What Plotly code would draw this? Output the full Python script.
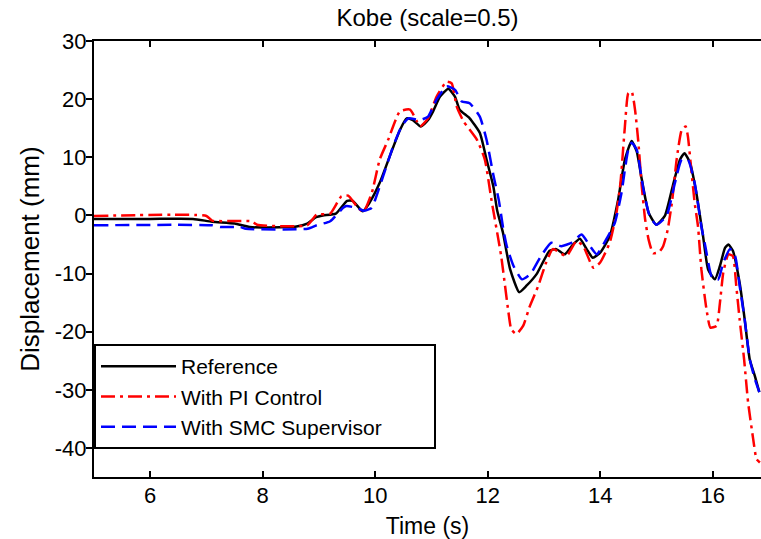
import plotly.graph_objects as go

# ---- data ----
t_ref = [5.0, 6.0, 6.76, 7.1, 7.5, 7.77, 8.43, 8.6, 8.79, 8.95, 9.07, 9.3, 9.5, 9.6, 9.78, 9.9,
         10.08, 10.26, 10.44, 10.56, 10.67, 10.81, 10.94, 11.03, 11.15, 11.3, 11.42, 11.5, 11.68,
         11.86, 11.98, 12.1, 12.17, 12.27, 12.4, 12.56, 12.69, 12.87, 13.1, 13.22, 13.37, 13.52,
         13.64, 13.76, 13.87, 14.0, 14.17, 14.32, 14.44, 14.56, 14.65, 14.74, 14.86, 15.0, 15.15,
         15.29, 15.42, 15.5, 15.6, 15.71, 15.83, 15.92, 16.04, 16.13, 16.22, 16.28, 16.36, 16.48,
         16.57, 16.66, 16.75, 16.83]
v_ref = [-0.6, -0.6, -0.6, -1.1, -1.4, -2.0, -2.0, -1.9, -1.4, -0.3, 0.0, 0.3, 2.5, 2.5, 0.7, 2.2,
         5.6, 10.2, 14.7, 16.7, 16.4, 15.3, 16.4, 17.9, 20.4, 21.8, 20.4, 18.2, 16.7,
         14.2, 9.6, 5.0, 0.8, -2.9, -9.3, -13.2, -12.1, -10.1, -6.1, -5.8, -6.7, -5.0,
         -4.0, -5.8, -7.3, -6.4, -3.6, 2.7, 9.6, 12.8, 11.0, 6.2, 0.5, -1.6, -0.1,
         5.0, 9.6, 10.7, 9.0, 3.9, -3.6, -9.3, -11.0, -8.7, -5.6, -5.0, -6.1, -11.6,
         -17.9, -24.8, -27.6, -30.4]

t_pi = [5.0, 7.0, 7.1, 7.8, 7.9, 8.79, 8.96, 9.2, 9.4, 9.52, 9.67, 9.79, 9.94, 10.08, 10.23,
        10.44, 10.62, 10.74, 10.8, 10.94, 11.09, 11.27, 11.36, 11.45, 11.57, 11.81, 11.95, 12.07,
        12.24, 12.37, 12.42, 12.51, 12.63, 12.75, 12.9, 13.04, 13.16, 13.4, 13.58, 13.7, 13.88,
        14.0, 14.17, 14.29, 14.36, 14.44, 14.5, 14.56, 14.62, 14.68, 14.74, 14.8, 14.86, 14.94,
        15.05, 15.12, 15.2, 15.28, 15.36, 15.45, 15.52, 15.56, 15.62, 15.68, 15.74, 15.8, 15.89,
        15.96, 16.07, 16.13, 16.19, 16.28, 16.36, 16.42, 16.48, 16.56, 16.63, 16.72, 16.78, 16.84]
v_pi = [-0.1, -0.1, -0.9, -1.0, -1.6, -1.7, 0.15, 0.3, 3.3, 3.4, 1.6, 0.6, 3.9, 9.6, 13.0,
        17.9, 18.2, 16.2, 15.3, 16.7, 20.4, 23.0, 22.7, 18.7, 16.2, 13.0, 9.6, 2.5,
        -7.0, -16.7, -19.6, -20.4, -19.0, -15.6, -12.1, -8.1, -5.8, -7.0, -4.4, -5.3, -9.0,
        -8.1, -4.7, 0.45, 5.5, 15.3, 21.0, 21.3, 18.2, 12.5, 5.0, -0.7, -4.1, -6.5,
        -6.3, -5.3, -2.5, 2.5, 9.6, 14.7, 15.3, 13.6, 7.9, 2.2, -1.9, -9.3, -16.1,
        -19.3, -19.0, -15.0, -9.8, -6.7, -7.0, -12.1, -17.9, -24.8, -32.1, -38.4, -41.9, -42.5]

t_smc = [5.0, 7.1, 7.25, 7.6, 7.7, 8.8, 8.96, 9.2, 9.43, 9.49, 9.67, 9.8, 9.94, 10.0, 10.14,
         10.32, 10.47, 10.59, 10.8, 10.94, 11.09, 11.27, 11.42, 11.54, 11.68, 11.86, 11.98, 12.1,
         12.2, 12.28, 12.34, 12.46, 12.61, 12.76, 12.93, 13.13, 13.31, 13.49, 13.67, 13.82, 13.94,
         14.11, 14.26, 14.38, 14.44, 14.5, 14.56, 14.65, 14.77, 14.88, 15.0, 15.18, 15.33, 15.45,
         15.56, 15.68, 15.8, 15.87, 15.99, 16.1, 16.19, 16.31, 16.4, 16.48, 16.57, 16.66, 16.75, 16.83]
v_smc = [-1.7, -1.7, -2.0, -2.0, -2.3, -2.3, -1.7, -1.0, 1.3, 1.6, 1.3, 0.8, 1.3, 2.7, 6.7,
         11.9, 15.3, 16.7, 16.4, 17.0, 19.9, 22.2, 21.6, 19.6, 19.3, 17.0, 13.0, 7.0,
         2.5, -2.5, -5.3, -8.7, -11.0, -10.1, -7.3, -4.7, -5.3, -4.7, -3.3, -5.3, -6.7,
         -4.1, -1.3, 3.9, 7.9, 11.3, 12.5, 11.3, 4.4, -0.1, -1.6, -0.1, 5.6, 9.6,
         9.6, 5.6, -1.9, -5.3, -10.7, -11.0, -8.1, -5.8, -7.0, -12.1, -17.9, -24.7, -28.1, -30.4]

names = ["Reference", "With PI Control", "With SMC Supervisor"]
x_ticks = [6, 8, 10, 12, 14, 16]
y_ticks = [-40, -30, -20, -10, 0, 10, 20, 30]
y_tick_text = ["-40", "-30", "-20", "-10", "0", "10", "20", "30"]

FONT = "Liberation Sans, Arial, Helvetica, sans-serif"
PAD = "\u00a0" * 8

fig = go.Figure()
fig.add_trace(go.Scatter(x=t_ref, y=v_ref, mode="lines", name=names[0], legendgroup="g1",
                         line=dict(color="black", width=2.5, shape="spline", smoothing=0.5)))
fig.add_trace(go.Scatter(x=t_pi, y=v_pi, mode="lines", name=names[1], legendgroup="g2",
                         line=dict(color="#ff0000", width=2.5, dash="14px,5px,3px,5px",
                                   shape="spline", smoothing=0.5)))
fig.add_trace(go.Scatter(x=t_smc, y=v_smc, mode="lines", name=names[2] + PAD, legendgroup="g3",
                         line=dict(color="#0000ff", width=2.5, dash="14px,7px",
                                   shape="spline", smoothing=0.5)))

fig.update_layout(
    width=761, height=539,
    margin=dict(l=94, r=0, t=41, b=62, autoexpand=False),
    plot_bgcolor="white", paper_bgcolor="white",
    font=dict(family=FONT, size=22, color="black"),
    title=dict(text="Kobe (scale=0.5)", x=0.5, xref="paper", xanchor="center",
               y=1 - 18 / 539, yref="container", yanchor="middle",
               font=dict(family=FONT, size=24, color="black")),
    showlegend=True,
    legend=dict(x=0, y=(477 - 449) / 436, xanchor="left", yanchor="bottom",
                xref="paper", yref="paper",
                bordercolor="black", borderwidth=2, bgcolor="white",
                itemwidth=75, traceorder="grouped", tracegroupgap=0,
                font=dict(family=FONT, size=21, color="black")),
)
fig.update_xaxes(range=[5, 16.86], tickvals=x_ticks, ticks="inside", ticklen=6, tickwidth=1.5,
                 tickcolor="black", showline=True, linecolor="black", linewidth=2,
                 mirror="ticks", showgrid=False, zeroline=False, ticklabelstandoff=-2,
                 automargin=False,
                 title=dict(text="Time (s)", standoff=10, font=dict(size=23)))
fig.update_yaxes(range=[-45, 30], tickvals=y_ticks, ticktext=y_tick_text, ticks="outside",
                 ticklen=6, tickwidth=1.5, ticklabelstandoff=-5,
                 tickcolor="black", showline=True, linecolor="black", linewidth=2,
                 mirror=False, showgrid=False, zeroline=False, automargin=False,
                 title=dict(text="Displacement (mm)", standoff=8))

# remove the default page margin so the 761x539 figure fills the window exactly
fig.write_html("out.html",
               config={"displayModeBar": False},
               post_script="document.body.style.margin='0';document.body.style.overflow='hidden';")
